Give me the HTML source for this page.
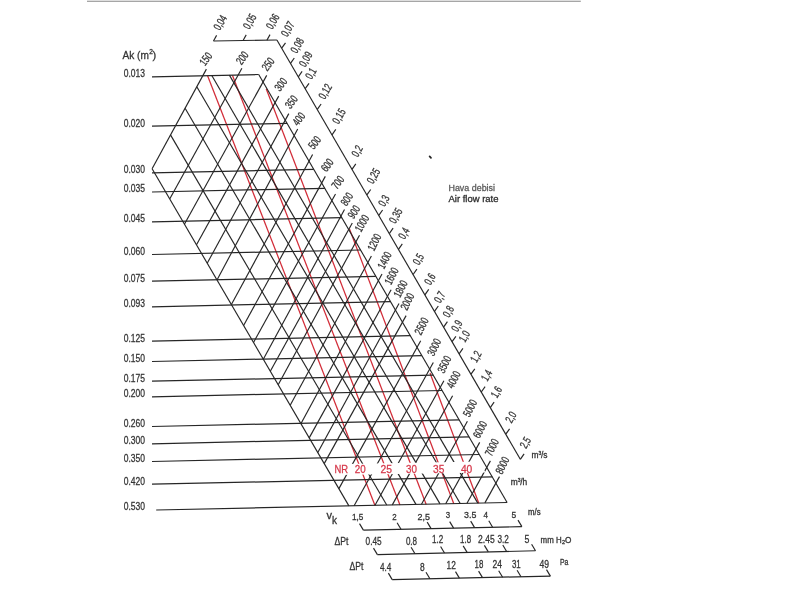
<!DOCTYPE html><html><head><meta charset="utf-8"><style>html,body{margin:0;padding:0;background:#fff;}svg{display:block;font-family:"Liberation Sans",sans-serif;filter:blur(0.35px);}</style></head><body><svg width="800" height="600" viewBox="0 0 800 600">
<rect width="800" height="600" fill="#fff"/>
<rect x="87" y="0" width="493.8" height="1" fill="#dedede"/>
<rect x="87" y="1" width="493.8" height="1" fill="#a6a6a6"/>
<g stroke-linecap="butt" fill="none">
<line x1="207.5" y1="75.6" x2="375.0" y2="505.5" stroke="#d22c38" stroke-width="1.25"/>
<line x1="232.5" y1="75.6" x2="400.0" y2="505.0" stroke="#d22c38" stroke-width="1.25"/>
<line x1="266.2" y1="88.8" x2="426.2" y2="504.5" stroke="#d22c38" stroke-width="1.25"/>
<line x1="349.5" y1="229.0" x2="453.8" y2="503.8" stroke="#d22c38" stroke-width="1.25"/>
<line x1="430.0" y1="373.0" x2="478.8" y2="503.2" stroke="#d22c38" stroke-width="1.25"/>
<line x1="152.0" y1="76.8" x2="258.7" y2="74.5" stroke="#262626" stroke-width="1.25"/>
<line x1="152.0" y1="126.2" x2="287.1" y2="123.3" stroke="#262626" stroke-width="1.25"/>
<line x1="152.0" y1="172.9" x2="313.8" y2="169.4" stroke="#262626" stroke-width="1.25"/>
<line x1="152.0" y1="192.0" x2="324.8" y2="188.3" stroke="#262626" stroke-width="1.25"/>
<line x1="152.0" y1="221.8" x2="341.8" y2="217.7" stroke="#262626" stroke-width="1.25"/>
<line x1="152.0" y1="254.5" x2="360.6" y2="250.0" stroke="#262626" stroke-width="1.25"/>
<line x1="152.0" y1="281.2" x2="375.9" y2="276.4" stroke="#262626" stroke-width="1.25"/>
<line x1="152.0" y1="306.8" x2="390.5" y2="301.6" stroke="#262626" stroke-width="1.25"/>
<line x1="152.0" y1="341.2" x2="410.3" y2="335.7" stroke="#262626" stroke-width="1.25"/>
<line x1="152.0" y1="361.5" x2="421.9" y2="355.7" stroke="#262626" stroke-width="1.25"/>
<line x1="152.0" y1="381.2" x2="433.2" y2="375.2" stroke="#262626" stroke-width="1.25"/>
<line x1="152.0" y1="396.8" x2="442.1" y2="390.5" stroke="#262626" stroke-width="1.25"/>
<line x1="152.0" y1="426.5" x2="459.2" y2="419.9" stroke="#262626" stroke-width="1.25"/>
<line x1="152.0" y1="443.8" x2="469.1" y2="436.9" stroke="#262626" stroke-width="1.25"/>
<line x1="152.0" y1="461.5" x2="479.3" y2="454.5" stroke="#262626" stroke-width="1.25"/>
<line x1="152.0" y1="484.2" x2="492.3" y2="476.9" stroke="#262626" stroke-width="1.25"/>
<line x1="156.2" y1="510.0" x2="507.1" y2="502.5" stroke="#262626" stroke-width="1.25"/>
<line x1="152.1" y1="168.8" x2="348.9" y2="505.9" stroke="#262626" stroke-width="1.15"/>
<line x1="170.5" y1="134.9" x2="386.7" y2="505.0" stroke="#262626" stroke-width="1.15"/>
<line x1="185.1" y1="108.2" x2="416.0" y2="504.4" stroke="#262626" stroke-width="1.15"/>
<line x1="196.8" y1="86.7" x2="440.0" y2="503.9" stroke="#262626" stroke-width="1.15"/>
<line x1="211.8" y1="75.5" x2="460.2" y2="503.5" stroke="#262626" stroke-width="1.15"/>
<line x1="229.4" y1="75.1" x2="477.8" y2="503.1" stroke="#262626" stroke-width="1.15"/>
<line x1="258.7" y1="74.5" x2="507.1" y2="502.5" stroke="#262626" stroke-width="1.15"/>
<line x1="152.1" y1="168.8" x2="206.4" y2="69.1" stroke="#262626" stroke-width="1.15"/>
<line x1="169.7" y1="199.0" x2="241.9" y2="68.3" stroke="#262626" stroke-width="1.15"/>
<line x1="184.4" y1="224.2" x2="266.7" y2="75.4" stroke="#262626" stroke-width="1.15"/>
<line x1="196.5" y1="244.8" x2="278.7" y2="96.1" stroke="#262626" stroke-width="1.15"/>
<line x1="207.2" y1="263.3" x2="288.8" y2="113.6" stroke="#262626" stroke-width="1.15"/>
<line x1="217.0" y1="280.0" x2="297.7" y2="128.9" stroke="#262626" stroke-width="1.15"/>
<line x1="231.4" y1="304.6" x2="312.6" y2="154.5" stroke="#262626" stroke-width="1.15"/>
<line x1="243.6" y1="325.5" x2="325.3" y2="176.4" stroke="#262626" stroke-width="1.15"/>
<line x1="253.5" y1="342.5" x2="335.5" y2="194.0" stroke="#262626" stroke-width="1.15"/>
<line x1="263.3" y1="359.3" x2="344.5" y2="209.6" stroke="#262626" stroke-width="1.15"/>
<line x1="270.3" y1="371.3" x2="352.3" y2="223.0" stroke="#262626" stroke-width="1.15"/>
<line x1="278.2" y1="384.8" x2="359.5" y2="235.3" stroke="#262626" stroke-width="1.15"/>
<line x1="290.2" y1="405.3" x2="371.4" y2="255.9" stroke="#262626" stroke-width="1.15"/>
<line x1="300.9" y1="423.7" x2="382.0" y2="274.1" stroke="#262626" stroke-width="1.15"/>
<line x1="309.2" y1="437.9" x2="391.1" y2="289.8" stroke="#262626" stroke-width="1.15"/>
<line x1="317.8" y1="452.6" x2="399.0" y2="303.4" stroke="#262626" stroke-width="1.15"/>
<line x1="324.2" y1="463.6" x2="406.1" y2="315.6" stroke="#262626" stroke-width="1.15"/>
<line x1="338.9" y1="488.6" x2="420.7" y2="340.7" stroke="#262626" stroke-width="1.15"/>
<line x1="354.1" y1="505.7" x2="433.3" y2="362.5" stroke="#262626" stroke-width="1.15"/>
<line x1="375.0" y1="505.3" x2="443.9" y2="380.7" stroke="#262626" stroke-width="1.15"/>
<line x1="392.3" y1="504.9" x2="452.6" y2="395.7" stroke="#262626" stroke-width="1.15"/>
<line x1="421.5" y1="504.3" x2="467.4" y2="421.2" stroke="#262626" stroke-width="1.15"/>
<line x1="445.7" y1="503.8" x2="479.7" y2="442.4" stroke="#262626" stroke-width="1.15"/>
<line x1="467.0" y1="503.3" x2="490.4" y2="460.9" stroke="#262626" stroke-width="1.15"/>
<line x1="484.9" y1="502.9" x2="499.5" y2="476.6" stroke="#262626" stroke-width="1.15"/>
</g>
<polygon points="333,464.2 479.5,461.4 485.5,472.4 338.5,475.0" fill="#fff"/>
<g stroke-linecap="butt" fill="none" stroke="#262626" stroke-width="1.15">
<line x1="213.5" y1="41.0" x2="276.9" y2="40.0"/>
<line x1="276.9" y1="40.0" x2="520.3" y2="459.3"/>
<line x1="213.5" y1="41.0" x2="216.6" y2="35.4"/>
<line x1="243.1" y1="40.5" x2="246.2" y2="34.9"/>
<line x1="266.9" y1="40.2" x2="270.0" y2="34.6"/>
<line x1="281.7" y1="48.2" x2="285.5" y2="42.8"/>
<line x1="290.5" y1="63.4" x2="294.3" y2="58.0"/>
<line x1="298.3" y1="76.8" x2="302.1" y2="71.4"/>
<line x1="305.2" y1="88.7" x2="309.0" y2="83.3"/>
<line x1="317.3" y1="109.4" x2="321.1" y2="104.0"/>
<line x1="332.0" y1="134.8" x2="335.8" y2="129.4"/>
<line x1="352.0" y1="169.3" x2="355.8" y2="163.9"/>
<line x1="366.9" y1="194.9" x2="370.7" y2="189.5"/>
<line x1="378.8" y1="215.4" x2="382.6" y2="210.0"/>
<line x1="389.3" y1="233.6" x2="393.1" y2="228.2"/>
<line x1="398.5" y1="249.3" x2="402.3" y2="243.9"/>
<line x1="413.1" y1="274.5" x2="416.9" y2="269.1"/>
<line x1="424.9" y1="294.8" x2="428.7" y2="289.4"/>
<line x1="434.5" y1="311.4" x2="438.3" y2="306.0"/>
<line x1="443.6" y1="327.1" x2="447.4" y2="321.7"/>
<line x1="452.1" y1="341.7" x2="455.9" y2="336.3"/>
<line x1="459.1" y1="353.8" x2="462.9" y2="348.4"/>
<line x1="471.0" y1="374.2" x2="474.8" y2="368.8"/>
<line x1="481.3" y1="392.0" x2="485.1" y2="386.6"/>
<line x1="490.3" y1="407.6" x2="494.1" y2="402.2"/>
<line x1="505.8" y1="434.2" x2="509.6" y2="428.8"/>
<line x1="520.3" y1="459.3" x2="524.1" y2="453.9"/>
<line x1="363.4" y1="530.1" x2="521.9" y2="526.6"/>
<line x1="363.4" y1="530.1" x2="359.5" y2="523.6"/>
<line x1="401.0" y1="529.3" x2="397.1" y2="522.8"/>
<line x1="431.1" y1="528.6" x2="427.2" y2="522.1"/>
<line x1="453.6" y1="528.1" x2="449.7" y2="521.6"/>
<line x1="474.6" y1="527.6" x2="470.7" y2="521.1"/>
<line x1="492.6" y1="527.2" x2="488.8" y2="520.7"/>
<line x1="521.9" y1="526.6" x2="518.0" y2="520.1"/>
<line x1="377.4" y1="554.6" x2="535.5" y2="550.8"/>
<line x1="377.4" y1="554.6" x2="373.5" y2="548.1"/>
<line x1="415.0" y1="553.7" x2="411.1" y2="547.2"/>
<line x1="444.5" y1="553.0" x2="440.6" y2="546.5"/>
<line x1="467.1" y1="552.4" x2="463.2" y2="545.9"/>
<line x1="488.3" y1="551.9" x2="484.4" y2="545.4"/>
<line x1="506.6" y1="551.5" x2="502.8" y2="545.0"/>
<line x1="535.5" y1="550.8" x2="531.6" y2="544.2"/>
<line x1="392.2" y1="579.6" x2="550.4" y2="576.1"/>
<line x1="392.2" y1="579.6" x2="388.4" y2="573.1"/>
<line x1="429.9" y1="578.8" x2="426.0" y2="572.3"/>
<line x1="459.4" y1="578.1" x2="455.5" y2="571.6"/>
<line x1="482.5" y1="577.6" x2="478.6" y2="571.1"/>
<line x1="502.6" y1="577.2" x2="498.7" y2="570.7"/>
<line x1="521.0" y1="576.8" x2="517.1" y2="570.3"/>
<line x1="550.4" y1="576.1" x2="546.5" y2="569.6"/>
</g>
<path d="M429.6 156.4 L431.0 157.9" stroke="#222" stroke-width="1.7" stroke-linecap="round"/>
<text x="123.7" y="77.0" font-size="11.6" fill="#343434" stroke="#343434" stroke-width="0.3" textLength="21.3" lengthAdjust="spacingAndGlyphs">0.013</text>
<text x="123.7" y="126.5" font-size="11.6" fill="#343434" stroke="#343434" stroke-width="0.3" textLength="21.3" lengthAdjust="spacingAndGlyphs">0.020</text>
<text x="123.7" y="173.2" font-size="11.6" fill="#343434" stroke="#343434" stroke-width="0.3" textLength="21.3" lengthAdjust="spacingAndGlyphs">0.030</text>
<text x="123.7" y="192.3" font-size="11.6" fill="#343434" stroke="#343434" stroke-width="0.3" textLength="21.3" lengthAdjust="spacingAndGlyphs">0.035</text>
<text x="123.7" y="222.1" font-size="11.6" fill="#343434" stroke="#343434" stroke-width="0.3" textLength="21.3" lengthAdjust="spacingAndGlyphs">0.045</text>
<text x="123.7" y="254.8" font-size="11.6" fill="#343434" stroke="#343434" stroke-width="0.3" textLength="21.3" lengthAdjust="spacingAndGlyphs">0.060</text>
<text x="123.7" y="281.6" font-size="11.6" fill="#343434" stroke="#343434" stroke-width="0.3" textLength="21.3" lengthAdjust="spacingAndGlyphs">0.075</text>
<text x="123.7" y="307.1" font-size="11.6" fill="#343434" stroke="#343434" stroke-width="0.3" textLength="21.3" lengthAdjust="spacingAndGlyphs">0.093</text>
<text x="123.7" y="341.6" font-size="11.6" fill="#343434" stroke="#343434" stroke-width="0.3" textLength="21.3" lengthAdjust="spacingAndGlyphs">0.125</text>
<text x="123.7" y="361.8" font-size="11.6" fill="#343434" stroke="#343434" stroke-width="0.3" textLength="21.3" lengthAdjust="spacingAndGlyphs">0.150</text>
<text x="123.7" y="381.6" font-size="11.6" fill="#343434" stroke="#343434" stroke-width="0.3" textLength="21.3" lengthAdjust="spacingAndGlyphs">0.175</text>
<text x="123.7" y="397.1" font-size="11.6" fill="#343434" stroke="#343434" stroke-width="0.3" textLength="21.3" lengthAdjust="spacingAndGlyphs">0.200</text>
<text x="123.7" y="426.8" font-size="11.6" fill="#343434" stroke="#343434" stroke-width="0.3" textLength="21.3" lengthAdjust="spacingAndGlyphs">0.260</text>
<text x="123.7" y="444.1" font-size="11.6" fill="#343434" stroke="#343434" stroke-width="0.3" textLength="21.3" lengthAdjust="spacingAndGlyphs">0.300</text>
<text x="123.7" y="461.8" font-size="11.6" fill="#343434" stroke="#343434" stroke-width="0.3" textLength="21.3" lengthAdjust="spacingAndGlyphs">0.350</text>
<text x="123.7" y="484.6" font-size="11.6" fill="#343434" stroke="#343434" stroke-width="0.3" textLength="21.3" lengthAdjust="spacingAndGlyphs">0.420</text>
<text x="123.7" y="509.5" font-size="11.6" fill="#343434" stroke="#343434" stroke-width="0.3" textLength="21.3" lengthAdjust="spacingAndGlyphs">0.530</text>
<text x="122.5" y="59.1" font-size="11" fill="#343434" stroke="#343434" stroke-width="0.3" textLength="26.4" lengthAdjust="spacingAndGlyphs">Ak (m</text>
<text x="149.3" y="53.9" font-size="6.5" fill="#343434" stroke="#343434" stroke-width="0.3">2</text>
<text x="152.6" y="59.1" font-size="11" fill="#343434" stroke="#343434" stroke-width="0.3">)</text>
<text transform="translate(205.0 66.5) rotate(-53)" font-size="11.4" fill="#343434" stroke="#343434" stroke-width="0.3" textLength="13.0" lengthAdjust="spacingAndGlyphs">150</text>
<text transform="translate(241.4 65.4) rotate(-53)" font-size="11.4" fill="#343434" stroke="#343434" stroke-width="0.3" textLength="13.0" lengthAdjust="spacingAndGlyphs">200</text>
<text transform="translate(267.2 71.7) rotate(-53)" font-size="11.4" fill="#343434" stroke="#343434" stroke-width="0.3" textLength="13.0" lengthAdjust="spacingAndGlyphs">250</text>
<text transform="translate(280.0 91.9) rotate(-53)" font-size="11.4" fill="#343434" stroke="#343434" stroke-width="0.3" textLength="13.0" lengthAdjust="spacingAndGlyphs">300</text>
<text transform="translate(290.5 109.5) rotate(-53)" font-size="11.4" fill="#343434" stroke="#343434" stroke-width="0.3" textLength="13.0" lengthAdjust="spacingAndGlyphs">350</text>
<text transform="translate(298.0 126.4) rotate(-53)" font-size="11.4" fill="#343434" stroke="#343434" stroke-width="0.3" textLength="13.0" lengthAdjust="spacingAndGlyphs">400</text>
<text transform="translate(313.8 150.1) rotate(-53)" font-size="11.4" fill="#343434" stroke="#343434" stroke-width="0.3" textLength="13.0" lengthAdjust="spacingAndGlyphs">500</text>
<text transform="translate(326.4 172.6) rotate(-53)" font-size="11.4" fill="#343434" stroke="#343434" stroke-width="0.3" textLength="13.0" lengthAdjust="spacingAndGlyphs">600</text>
<text transform="translate(337.0 189.9) rotate(-53)" font-size="11.4" fill="#343434" stroke="#343434" stroke-width="0.3" textLength="13.0" lengthAdjust="spacingAndGlyphs">700</text>
<text transform="translate(346.4 206.8) rotate(-56)" font-size="11.4" fill="#343434" stroke="#343434" stroke-width="0.3" textLength="13.0" lengthAdjust="spacingAndGlyphs">800</text>
<text transform="translate(353.5 219.5) rotate(-56)" font-size="11.4" fill="#343434" stroke="#343434" stroke-width="0.3" textLength="13.0" lengthAdjust="spacingAndGlyphs">900</text>
<text transform="translate(360.9 232.7) rotate(-60)" font-size="11.4" fill="#343434" stroke="#343434" stroke-width="0.3" textLength="17.4" lengthAdjust="spacingAndGlyphs">1000</text>
<text transform="translate(373.9 251.8) rotate(-63)" font-size="11.4" fill="#343434" stroke="#343434" stroke-width="0.3" textLength="17.4" lengthAdjust="spacingAndGlyphs">1200</text>
<text transform="translate(384.0 269.8) rotate(-63)" font-size="11.4" fill="#343434" stroke="#343434" stroke-width="0.3" textLength="17.4" lengthAdjust="spacingAndGlyphs">1400</text>
<text transform="translate(391.1 285.6) rotate(-63)" font-size="11.4" fill="#343434" stroke="#343434" stroke-width="0.3" textLength="17.4" lengthAdjust="spacingAndGlyphs">1600</text>
<text transform="translate(400.1 298.3) rotate(-63)" font-size="11.4" fill="#343434" stroke="#343434" stroke-width="0.3" textLength="17.4" lengthAdjust="spacingAndGlyphs">1800</text>
<text transform="translate(406.9 311.1) rotate(-63)" font-size="11.4" fill="#343434" stroke="#343434" stroke-width="0.3" textLength="17.4" lengthAdjust="spacingAndGlyphs">2000</text>
<text transform="translate(421.0 335.7) rotate(-63)" font-size="11.4" fill="#343434" stroke="#343434" stroke-width="0.3" textLength="17.4" lengthAdjust="spacingAndGlyphs">2500</text>
<text transform="translate(433.7 356.7) rotate(-63)" font-size="11.4" fill="#343434" stroke="#343434" stroke-width="0.3" textLength="17.4" lengthAdjust="spacingAndGlyphs">3000</text>
<text transform="translate(443.9 373.9) rotate(-63)" font-size="11.4" fill="#343434" stroke="#343434" stroke-width="0.3" textLength="17.4" lengthAdjust="spacingAndGlyphs">3500</text>
<text transform="translate(453.0 389.2) rotate(-63)" font-size="11.4" fill="#343434" stroke="#343434" stroke-width="0.3" textLength="17.4" lengthAdjust="spacingAndGlyphs">4000</text>
<text transform="translate(469.5 417.7) rotate(-63)" font-size="11.4" fill="#343434" stroke="#343434" stroke-width="0.3" textLength="17.4" lengthAdjust="spacingAndGlyphs">5000</text>
<text transform="translate(479.6 439.1) rotate(-63)" font-size="11.4" fill="#343434" stroke="#343434" stroke-width="0.3" textLength="17.4" lengthAdjust="spacingAndGlyphs">6000</text>
<text transform="translate(491.4 456.9) rotate(-63)" font-size="11.4" fill="#343434" stroke="#343434" stroke-width="0.3" textLength="17.4" lengthAdjust="spacingAndGlyphs">7000</text>
<text transform="translate(501.9 474.9) rotate(-63)" font-size="11.4" fill="#343434" stroke="#343434" stroke-width="0.3" textLength="17.4" lengthAdjust="spacingAndGlyphs">8000</text>
<text transform="translate(219.7 31.1) rotate(-60)" font-size="11.4" fill="#343434" stroke="#343434" stroke-width="0.3" textLength="15.2" lengthAdjust="spacingAndGlyphs">0,04</text>
<text transform="translate(249.3 30.0) rotate(-60)" font-size="11.4" fill="#343434" stroke="#343434" stroke-width="0.3" textLength="15.2" lengthAdjust="spacingAndGlyphs">0,05</text>
<text transform="translate(272.2 30.0) rotate(-60)" font-size="11.4" fill="#343434" stroke="#343434" stroke-width="0.3" textLength="15.2" lengthAdjust="spacingAndGlyphs">0,06</text>
<text transform="translate(287.2 37.5) rotate(-60)" font-size="11.4" fill="#343434" stroke="#343434" stroke-width="0.3" textLength="15.2" lengthAdjust="spacingAndGlyphs">0,07</text>
<text transform="translate(296.7 53.9) rotate(-60)" font-size="11.4" fill="#343434" stroke="#343434" stroke-width="0.3" textLength="15.2" lengthAdjust="spacingAndGlyphs">0,08</text>
<text transform="translate(305.2 67.7) rotate(-60)" font-size="11.4" fill="#343434" stroke="#343434" stroke-width="0.3" textLength="15.2" lengthAdjust="spacingAndGlyphs">0,09</text>
<text transform="translate(311.5 80.1) rotate(-60)" font-size="11.4" fill="#343434" stroke="#343434" stroke-width="0.3" textLength="10.9" lengthAdjust="spacingAndGlyphs">0,1</text>
<text transform="translate(324.7 100.0) rotate(-60)" font-size="11.4" fill="#343434" stroke="#343434" stroke-width="0.3" textLength="15.2" lengthAdjust="spacingAndGlyphs">0,12</text>
<text transform="translate(338.5 124.7) rotate(-60)" font-size="11.4" fill="#343434" stroke="#343434" stroke-width="0.3" textLength="15.2" lengthAdjust="spacingAndGlyphs">0,15</text>
<text transform="translate(357.7 157.7) rotate(-60)" font-size="11.4" fill="#343434" stroke="#343434" stroke-width="0.3" textLength="10.9" lengthAdjust="spacingAndGlyphs">0,2</text>
<text transform="translate(373.0 184.5) rotate(-60)" font-size="11.4" fill="#343434" stroke="#343434" stroke-width="0.3" textLength="15.2" lengthAdjust="spacingAndGlyphs">0,25</text>
<text transform="translate(384.6 207.3) rotate(-60)" font-size="11.4" fill="#343434" stroke="#343434" stroke-width="0.3" textLength="10.9" lengthAdjust="spacingAndGlyphs">0,3</text>
<text transform="translate(395.2 224.2) rotate(-60)" font-size="11.4" fill="#343434" stroke="#343434" stroke-width="0.3" textLength="15.2" lengthAdjust="spacingAndGlyphs">0,35</text>
<text transform="translate(404.6 240.0) rotate(-60)" font-size="11.4" fill="#343434" stroke="#343434" stroke-width="0.3" textLength="10.9" lengthAdjust="spacingAndGlyphs">0,4</text>
<text transform="translate(418.9 265.8) rotate(-60)" font-size="11.4" fill="#343434" stroke="#343434" stroke-width="0.3" textLength="10.9" lengthAdjust="spacingAndGlyphs">0,5</text>
<text transform="translate(430.5 285.7) rotate(-60)" font-size="11.4" fill="#343434" stroke="#343434" stroke-width="0.3" textLength="10.9" lengthAdjust="spacingAndGlyphs">0,6</text>
<text transform="translate(440.2 303.7) rotate(-60)" font-size="11.4" fill="#343434" stroke="#343434" stroke-width="0.3" textLength="10.9" lengthAdjust="spacingAndGlyphs">0,7</text>
<text transform="translate(449.1 318.2) rotate(-60)" font-size="11.4" fill="#343434" stroke="#343434" stroke-width="0.3" textLength="10.9" lengthAdjust="spacingAndGlyphs">0,8</text>
<text transform="translate(457.4 332.5) rotate(-60)" font-size="11.4" fill="#343434" stroke="#343434" stroke-width="0.3" textLength="10.9" lengthAdjust="spacingAndGlyphs">0,9</text>
<text transform="translate(464.9 343.0) rotate(-60)" font-size="11.4" fill="#343434" stroke="#343434" stroke-width="0.3" textLength="10.9" lengthAdjust="spacingAndGlyphs">1,0</text>
<text transform="translate(476.5 363.2) rotate(-60)" font-size="11.4" fill="#343434" stroke="#343434" stroke-width="0.3" textLength="10.9" lengthAdjust="spacingAndGlyphs">1,2</text>
<text transform="translate(487.2 382.1) rotate(-60)" font-size="11.4" fill="#343434" stroke="#343434" stroke-width="0.3" textLength="10.9" lengthAdjust="spacingAndGlyphs">1,4</text>
<text transform="translate(496.9 398.7) rotate(-60)" font-size="11.4" fill="#343434" stroke="#343434" stroke-width="0.3" textLength="10.9" lengthAdjust="spacingAndGlyphs">1,6</text>
<text transform="translate(511.5 423.8) rotate(-60)" font-size="11.4" fill="#343434" stroke="#343434" stroke-width="0.3" textLength="10.9" lengthAdjust="spacingAndGlyphs">2,0</text>
<text transform="translate(526.1 449.3) rotate(-60)" font-size="11.4" fill="#343434" stroke="#343434" stroke-width="0.3" textLength="10.9" lengthAdjust="spacingAndGlyphs">2,5</text>
<text x="352.0" y="520.3" font-size="9.8" fill="#343434" stroke="#343434" stroke-width="0.3" textLength="11.4" lengthAdjust="spacingAndGlyphs">1,5</text>
<text x="392.2" y="520.0" font-size="9.8" fill="#343434" stroke="#343434" stroke-width="0.3" textLength="4.4" lengthAdjust="spacingAndGlyphs">2</text>
<text x="417.5" y="519.6" font-size="9.8" fill="#343434" stroke="#343434" stroke-width="0.3" textLength="12.5" lengthAdjust="spacingAndGlyphs">2,5</text>
<text x="445.8" y="518.2" font-size="9.8" fill="#343434" stroke="#343434" stroke-width="0.3" textLength="4.4" lengthAdjust="spacingAndGlyphs">3</text>
<text x="464.1" y="518.0" font-size="9.8" fill="#343434" stroke="#343434" stroke-width="0.3" textLength="12.3" lengthAdjust="spacingAndGlyphs">3.5</text>
<text x="483.4" y="517.8" font-size="9.8" fill="#343434" stroke="#343434" stroke-width="0.3" textLength="4.5" lengthAdjust="spacingAndGlyphs">4</text>
<text x="511.4" y="517.6" font-size="9.8" fill="#343434" stroke="#343434" stroke-width="0.3" textLength="4.7" lengthAdjust="spacingAndGlyphs">5</text>
<text x="365.6" y="545.4" font-size="11.2" fill="#343434" stroke="#343434" stroke-width="0.3" textLength="16.1" lengthAdjust="spacingAndGlyphs">0.45</text>
<text x="405.9" y="545.1" font-size="11.2" fill="#343434" stroke="#343434" stroke-width="0.3" textLength="11.2" lengthAdjust="spacingAndGlyphs">0.8</text>
<text x="432.1" y="543.4" font-size="11.2" fill="#343434" stroke="#343434" stroke-width="0.3" textLength="11.2" lengthAdjust="spacingAndGlyphs">1.2</text>
<text x="460.1" y="543.2" font-size="11.2" fill="#343434" stroke="#343434" stroke-width="0.3" textLength="11.0" lengthAdjust="spacingAndGlyphs">1.8</text>
<text x="478.1" y="543.0" font-size="11.2" fill="#343434" stroke="#343434" stroke-width="0.3" textLength="16.6" lengthAdjust="spacingAndGlyphs">2.45</text>
<text x="497.4" y="542.8" font-size="11.2" fill="#343434" stroke="#343434" stroke-width="0.3" textLength="11.4" lengthAdjust="spacingAndGlyphs">3.2</text>
<text x="524.5" y="542.6" font-size="11.2" fill="#343434" stroke="#343434" stroke-width="0.3" textLength="4.9" lengthAdjust="spacingAndGlyphs">5</text>
<text x="380.0" y="570.8" font-size="11.2" fill="#343434" stroke="#343434" stroke-width="0.3" textLength="11.4" lengthAdjust="spacingAndGlyphs">4.4</text>
<text x="419.9" y="570.5" font-size="11.2" fill="#343434" stroke="#343434" stroke-width="0.3" textLength="4.7" lengthAdjust="spacingAndGlyphs">8</text>
<text x="446.6" y="568.5" font-size="11.2" fill="#343434" stroke="#343434" stroke-width="0.3" textLength="9.3" lengthAdjust="spacingAndGlyphs">12</text>
<text x="474.6" y="568.3" font-size="11.2" fill="#343434" stroke="#343434" stroke-width="0.3" textLength="8.8" lengthAdjust="spacingAndGlyphs">18</text>
<text x="492.6" y="568.1" font-size="11.2" fill="#343434" stroke="#343434" stroke-width="0.3" textLength="9.5" lengthAdjust="spacingAndGlyphs">24</text>
<text x="511.9" y="567.9" font-size="11.2" fill="#343434" stroke="#343434" stroke-width="0.3" textLength="8.8" lengthAdjust="spacingAndGlyphs">31</text>
<text x="539.4" y="567.7" font-size="11.2" fill="#343434" stroke="#343434" stroke-width="0.3" textLength="9.6" lengthAdjust="spacingAndGlyphs">49</text>
<text x="326.4" y="518.6" font-size="11" fill="#343434" stroke="#343434" stroke-width="0.3">v</text>
<text x="331.9" y="523.7" font-size="10" fill="#343434" stroke="#343434" stroke-width="0.3">k</text>
<text x="334.5" y="544.9" font-size="11.2" fill="#343434" stroke="#343434" stroke-width="0.3" textLength="14.0" lengthAdjust="spacingAndGlyphs">ΔPt</text>
<text x="349.4" y="570.2" font-size="11.2" fill="#343434" stroke="#343434" stroke-width="0.3" textLength="14.0" lengthAdjust="spacingAndGlyphs">ΔPt</text>
<text x="528.0" y="515.0" font-size="8.2" fill="#343434" stroke="#343434" stroke-width="0.3" textLength="12.6" lengthAdjust="spacingAndGlyphs">m/s</text>
<text x="540.6" y="542.6" font-size="8.2" fill="#343434" stroke="#343434" stroke-width="0.3" textLength="21.0" lengthAdjust="spacingAndGlyphs">mm H</text>
<text x="562.0" y="544.2" font-size="5.5" fill="#343434" stroke="#343434" stroke-width="0.3">2</text>
<text x="565.0" y="542.6" font-size="8.2" fill="#343434" stroke="#343434" stroke-width="0.3">O</text>
<text x="559.9" y="565.2" font-size="8.2" fill="#343434" stroke="#343434" stroke-width="0.3" textLength="8.4" lengthAdjust="spacingAndGlyphs">Pa</text>
<text x="531.5" y="458.2" font-size="8.4" fill="#343434" stroke="#343434" stroke-width="0.3">m</text>
<text x="538.4" y="454.6" font-size="5" fill="#343434" stroke="#343434" stroke-width="0.3">3</text>
<text x="541.0" y="458.2" font-size="8.4" fill="#343434" stroke="#343434" stroke-width="0.3">/s</text>
<text x="510.8" y="485.2" font-size="8.4" fill="#343434" stroke="#343434" stroke-width="0.3">m</text>
<text x="517.7" y="481.6" font-size="5" fill="#343434" stroke="#343434" stroke-width="0.3">3</text>
<text x="520.3" y="485.2" font-size="8.4" fill="#343434" stroke="#343434" stroke-width="0.3">/h</text>
<text x="448.5" y="190.8" font-size="9.2" fill="#5a5a5a" stroke="#5a5a5a" stroke-width="0.3" textLength="46.5" lengthAdjust="spacingAndGlyphs">Hava debisi</text>
<text x="448.5" y="201.6" font-size="9.2" fill="#2e2e2e" stroke="#2e2e2e" stroke-width="0.3" textLength="50.0" lengthAdjust="spacingAndGlyphs">Air flow rate</text>
<text x="334.4" y="473.1" font-size="11.4" fill="#d63a4c" stroke="#d63a4c" stroke-width="0.3" textLength="13.6" lengthAdjust="spacingAndGlyphs">NR</text>
<text x="354.8" y="473.1" font-size="11.4" fill="#d63a4c" stroke="#d63a4c" stroke-width="0.3" textLength="10.9" lengthAdjust="spacingAndGlyphs">20</text>
<text x="380.4" y="473.1" font-size="11.4" fill="#d63a4c" stroke="#d63a4c" stroke-width="0.3" textLength="11.5" lengthAdjust="spacingAndGlyphs">25</text>
<text x="406.0" y="473.1" font-size="11.4" fill="#d63a4c" stroke="#d63a4c" stroke-width="0.3" textLength="10.9" lengthAdjust="spacingAndGlyphs">30</text>
<text x="433.1" y="473.1" font-size="11.4" fill="#d63a4c" stroke="#d63a4c" stroke-width="0.3" textLength="11.3" lengthAdjust="spacingAndGlyphs">35</text>
<text x="460.9" y="473.1" font-size="11.4" fill="#d63a4c" stroke="#d63a4c" stroke-width="0.3" textLength="11.4" lengthAdjust="spacingAndGlyphs">40</text>
</svg></body></html>
